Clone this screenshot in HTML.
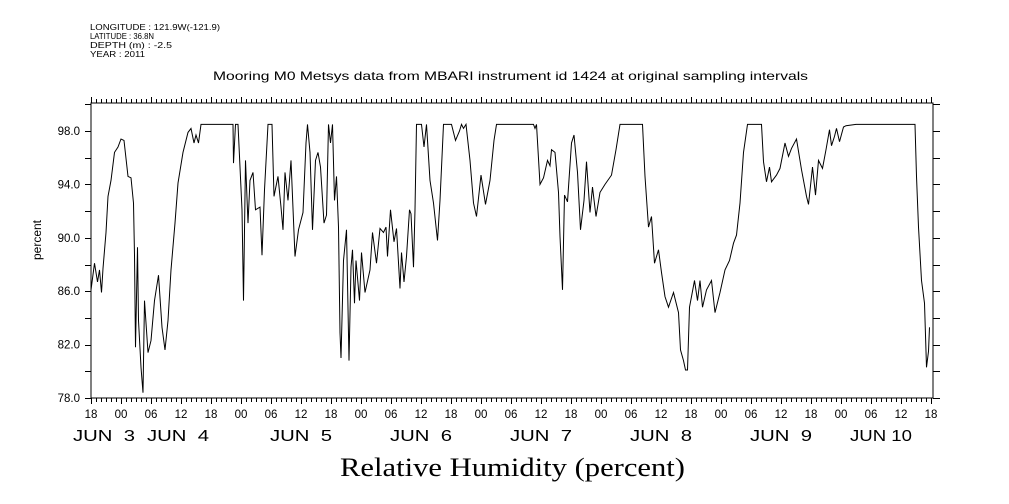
<!DOCTYPE html>
<html><head><meta charset="utf-8"><style>
body{margin:0;background:#fff;}
svg{display:block;font-family:"Liberation Sans",sans-serif;}
</style></head><body>
<svg id="chart" width="1009" height="504" viewBox="0 0 1009 504" xmlns="http://www.w3.org/2000/svg">
<g font-size="8.5" fill="#000">
<text x="90" y="30" textLength="130" lengthAdjust="spacingAndGlyphs">LONGITUDE : 121.9W(-121.9)</text>
<text x="90" y="39" textLength="64" lengthAdjust="spacingAndGlyphs">LATITUDE : 36.8N</text>
<text x="90" y="48" textLength="82" lengthAdjust="spacingAndGlyphs">DEPTH (m) : -2.5</text>
<text x="90" y="57" textLength="55" lengthAdjust="spacingAndGlyphs">YEAR : 2011</text>
</g>
<text x="213" y="80" font-size="12" textLength="595" lengthAdjust="spacingAndGlyphs">Mooring M0 Metsys data from MBARI instrument id 1424 at original sampling intervals</text>
<text x="0" y="0" font-size="12" text-anchor="middle" transform="translate(41,240) rotate(-90)">percent</text>
<text x="340" y="476" font-size="26" font-family="Liberation Serif, serif" textLength="345" lengthAdjust="spacingAndGlyphs">Relative Humidity (percent)</text>
<rect x="91" y="103" width="842" height="295" fill="none" stroke="#000" stroke-width="1"/>
<g id="ticks"></g>
<g id="labels"></g>
<path id="line" fill="none" stroke="#000" stroke-width="1"/>
</svg>
<script>
const hours=[0,0.7,1.3,1.7,2.1,2.4,3,3.4,4,4.7,5.4,6,6.6,7.4,8,8.5,8.7,8.9,9.3,9.5,10,10.4,10.7,11.4,12,12.7,13.5,14.2,14.8,15.4,16,16.8,17.4,18.4,19.4,20,20.6,21,21.5,22,28.4,28.5,28.9,29.4,30.2,30.5,30.9,31.4,31.8,32.4,32.9,33.8,34.2,34.7,35.4,36.2,36.6,37.4,38,38.4,38.8,39.4,40,40.8,41.5,42.4,43,43.3,43.8,44.3,44.9,45.4,45.9,46.6,47.1,47.5,47.9,48.3,48.7,49.1,49.5,49.8,50,50.5,51.1,51.6,52,52.3,52.7,53,53.7,54.1,54.8,55.8,56.3,57.1,57.8,58.5,59,59.3,59.9,60.6,61.1,61.8,62.1,62.6,63.1,63.7,64,64.5,64.8,65.1,66.1,66.6,67.1,67.8,68.5,69.3,69.8,70.5,72.1,72.5,72.9,73.7,74.1,74.5,75,75.8,76.5,77.1,78,78.9,79.8,80.6,81.1,88.5,88.8,89.1,89.8,90.5,91.3,91.8,92.1,92.8,93.5,93.8,94.3,94.7,95.3,96.1,96.6,97.3,97.9,98.6,99.1,99.8,100.3,101,101.8,102.8,104.1,105,105.8,110.3,110.8,111.5,112.1,112.7,113.5,114.1,114.8,115.5,116.5,117.5,117.9,118.5,118.9,119.3,119.7,120.1,120.7,121.3,121.8,122.3,123.1,124.1,124.8,125.8,126.8,127.7,128.5,129.1,129.8,130.5,131.3,134.1,134.5,135.1,135.7,136.1,137.1,137.8,138.8,139.5,140.1,141.1,142.1,143.1,143.5,144.3,144.9,145.5,146.3,147,147.7,148.1,148.7,149.1,149.7,150.5,151,153,164.8,165.1,165.5,166.1,166.7,167.1,167.5,167.7];
const values=[86.1,88.1,86.7,87.6,85.9,87.7,90.4,93.1,94.3,96.4,96.8,97.4,97.3,94.6,94.5,92.6,88.7,81.8,89.3,83.8,80.3,78.4,85.3,81.4,82.3,85.3,87.2,83.3,81.6,83.8,87.6,91.1,94.1,96.4,97.9,98.2,97.1,97.7,97.1,98.5,98.5,95.6,98.5,98.5,92.1,85.3,95.8,91.1,94.3,94.9,92.1,92.3,88.7,93.6,98.5,98.5,93.1,94.6,92.3,90.6,94.9,92.8,95.8,88.6,90.6,91.9,97.1,98.5,96.4,90.6,95.8,96.4,95.3,91.1,91.7,98.5,97.1,98.5,92.8,94.6,90.8,82.9,81.0,88.3,90.6,80.8,87.8,89.1,85.1,88.3,85.3,88.9,85.9,87.6,90.4,88.1,90.7,90.4,90.8,88.6,92.1,89.7,90.7,86.2,88.9,86.7,88.6,92.1,91.8,87.8,92.1,98.5,98.5,96.8,98.5,94.3,92.6,89.8,92.8,98.5,98.5,97.9,97.3,98.0,98.5,98.2,98.5,95.8,92.6,91.6,94.7,92.5,94.3,97.3,98.5,98.5,98.2,98.5,94.0,94.5,95.8,95.4,96.6,96.4,93.4,90.1,86.1,93.2,92.7,97.1,97.7,94.9,90.6,92.8,95.7,91.9,93.8,91.6,93.4,94.0,94.7,96.6,98.5,98.5,94.6,90.8,91.6,88.1,89.1,87.4,85.6,84.8,85.9,84.4,81.6,80.8,80.1,80.1,84.8,85.6,86.8,85.3,86.8,84.8,86.1,86.8,84.4,85.9,87.6,88.3,89.6,90.2,92.6,96.4,98.5,98.5,95.7,94.2,95.3,94.2,94.7,95.2,97.1,96.1,96.7,97.4,95.1,93.1,92.5,95.3,93.2,95.8,95.2,96.6,98.1,96.9,97.6,98.2,97.2,98.3,98.4,98.5,98.5,94.6,90.8,86.8,85.1,80.3,81.5,83.3];
const yTicks=[98,94,90,86,82,78];
const yTickLabels=["98.0","94.0","90.0","86.0","82.0","78.0"];
const hourLabels=["18","00","06","12","18","00","06","12","18","00","06","12","18","00","06","12","18","00","06","12","18","00","06","12","18","00","06","12","18"];
const dateLabels=["JUN  3","JUN  4","JUN  5","JUN  6","JUN  7","JUN  8","JUN  9","JUN 10"];
const dateHours=[2.6,17.4,42,66,90,114,138,158];
const X0=91,X1=933,HSPAN=168.4,Y0=398,Y1=103,VMIN=78,VMAX=100.1;
const xs=h=>X0+h*(X1-X0)/HSPAN;
const ys=v=>Y0-(v-VMIN)*(Y0-Y1)/(VMAX-VMIN);
const NS="http://www.w3.org/2000/svg";
function mk(tag,attrs,parent,txt){const e=document.createElementNS(NS,tag);for(const k in attrs)e.setAttribute(k,attrs[k]);if(txt!==undefined)e.textContent=txt;parent.appendChild(e);return e;}
let d="";
for(let i=0;i<hours.length;i++){d+=(i?"L":"M")+xs(hours[i]).toFixed(1)+","+ys(values[i]).toFixed(1);}
document.getElementById("line").setAttribute("d",d);
const tg=document.getElementById("ticks"),lg=document.getElementById("labels");
let td="";
for(let h=0;h<=168;h++){const x=Math.round(xs(h))+0.5;const L=(h%6===0)?6:4;td+=`M${x},103V${103-L}M${x},398V${398+L}`;}
for(let v=78;v<=100;v+=2){const y=Math.round(ys(v))+0.5;td+=`M91,${y}H85M933,${y}H940`;}
const tp=mk("path",{d:td,stroke:"#000","stroke-width":1,fill:"none"},tg);


yTicks.forEach((v,i)=>{const t=mk("text",{x:80,y:ys(v)+4,"font-size":11.5,"text-anchor":"end"},lg,yTickLabels[i]);

});
hourLabels.forEach((s,i)=>{const t=mk("text",{x:xs(i*6),y:418,"font-size":11.5,"text-anchor":"middle"},lg,s);

});
dateLabels.forEach((s,i)=>{const t=mk("text",{x:xs(dateHours[i])-31,y:441,"font-size":16,textLength:62,lengthAdjust:"spacingAndGlyphs"},lg,s);
t.style.whiteSpace="pre";

});
</script>
</body></html>
